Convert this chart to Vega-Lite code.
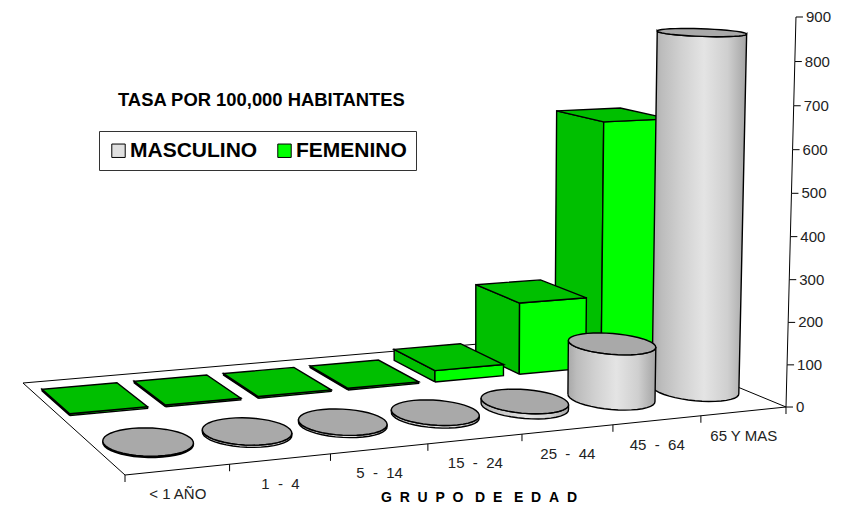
{
"$schema":"https://vega.github.io/schema/vega-lite/v6.json",
"width":854,"height":507,"padding":0,"autosize":{"type":"none"},
"background":"white",
"title":{"text":"TASA POR 100,000 HABITANTES","anchor":"start","frame":"group","dx":118,"offset":-109,"font":"Liberation Sans","fontSize":18.4,"fontWeight":"bold","color":"black"},
"config":{"view":{"stroke":null},"font":"Liberation Sans"},
"datasets":{
"tasas":[
{"grupo":"65 Y MAS","orden":6,"sexo":"FEMENINO","tasa":613},
{"grupo":"45\u00a0\u00a0-\u00a0\u00a064","orden":5,"sexo":"FEMENINO","tasa":178},
{"grupo":"25\u00a0\u00a0-\u00a0\u00a044","orden":4,"sexo":"FEMENINO","tasa":28},
{"grupo":"15\u00a0\u00a0-\u00a0\u00a024","orden":3,"sexo":"FEMENINO","tasa":4},
{"grupo":"5\u00a0\u00a0-\u00a0\u00a014","orden":2,"sexo":"FEMENINO","tasa":4},
{"grupo":"1\u00a0\u00a0-\u00a0\u00a04","orden":1,"sexo":"FEMENINO","tasa":4},
{"grupo":"< 1 AÑO","orden":0,"sexo":"FEMENINO","tasa":4},
{"grupo":"65 Y MAS","orden":6,"sexo":"MASCULINO","tasa":851},
{"grupo":"45\u00a0\u00a0-\u00a0\u00a064","orden":5,"sexo":"MASCULINO","tasa":130},
{"grupo":"25\u00a0\u00a0-\u00a0\u00a044","orden":4,"sexo":"MASCULINO","tasa":12},
{"grupo":"15\u00a0\u00a0-\u00a0\u00a024","orden":3,"sexo":"MASCULINO","tasa":6},
{"grupo":"5\u00a0\u00a0-\u00a0\u00a014","orden":2,"sexo":"MASCULINO","tasa":5},
{"grupo":"1\u00a0\u00a0-\u00a0\u00a04","orden":1,"sexo":"MASCULINO","tasa":5},
{"grupo":"< 1 AÑO","orden":0,"sexo":"MASCULINO","tasa":3}
],
"eje":[{"valor":0},{"valor":100},{"valor":200},{"valor":300},{"valor":400},{"valor":500},{"valor":600},{"valor":700},{"valor":800},{"valor":900}]
},
"encoding":{
"x":{"field":"px","type":"quantitative","scale":{"domain":[0,854],"range":[0,854]},
 "axis":{"domain":false,"ticks":false,"labels":false,"grid":false,"title":"G\u00a0\u00a0R\u00a0\u00a0U\u00a0\u00a0P\u00a0\u00a0O\u00a0\u00a0\u00a0D\u00a0\u00a0E\u00a0\u00a0\u00a0E\u00a0\u00a0D\u00a0\u00a0A\u00a0\u00a0D","titleX":478.5,"titleY":-10,"titleBaseline":"middle","titleFont":"Liberation Sans","titleFontSize":14,"titleFontWeight":"bold","titleColor":"black","titleAlign":"center"}},
"y":{"field":"py","type":"quantitative","scale":{"domain":[0,507],"range":[0,507]},"axis":null}
},
"layer":[
{"data":{"name":"tasas"},
 "transform":[
 {"filter":"datum.orden==0&&datum.sexo=='MASCULINO'"},
 {"calculate":"[0,1,2,3,4]","as":"n"},{"flatten":["n"]},
 {"calculate":"[0,7,7,0,0][datum.n]","as":"u"},
 {"calculate":"[0,0,1,1,0][datum.n]","as":"t"},
 {"calculate":"1+0.12771*datum.u/7+0.17099*datum.t","as":"w"},
 {"calculate":"(125+761.38*datum.u/7-98.07*datum.t)/datum.w","as":"px"},
 {"calculate":"(475-16.02*datum.u/7-26.51*datum.t)/datum.w","as":"py"}],
 "mark":{"type":"line","stroke":"black","strokeWidth":1,"fill":"white","strokeJoin":"miter"},
 "encoding":{"order":{"field":"n","type":"quantitative"}}},
{"data":{"name":"tasas"},
 "transform":[
 {"filter":"datum.sexo=='FEMENINO'"},
 {"calculate":"['izq','frente','sup']","as":"cara"},{"flatten":["cara"]},
 {"calculate":"[0,1,2,3,4]","as":"n"},{"flatten":["n"]},
 {"calculate":"datum.n%4","as":"k"},
 {"calculate":"datum.orden+(datum.cara=='izq'?0.1:datum.cara=='frente'?(datum.k<2?0.1:0.91):((datum.k==0||datum.k==3)?0.1:0.91))","as":"u"},
 {"calculate":"datum.cara=='frente'?0.6:(datum.k<2?0.6:0.89)","as":"t"},
 {"calculate":"datum.cara=='sup'?datum.tasa/900:((datum.k==1||datum.k==2)?datum.tasa/900:0)","as":"z"},
 {"calculate":"1+0.12771*datum.u/7+0.17099*datum.t-0.0341*datum.z","as":"w"},
 {"calculate":"(125+761.38*datum.u/7-98.07*datum.t-15.9*datum.z)/datum.w","as":"px"},
 {"calculate":"(475-16.02*datum.u/7-26.51*datum.t-440.41*datum.z)/datum.w","as":"py"},
 {"calculate":"datum.orden+datum.cara","as":"poly"}],
 "mark":{"type":"line","stroke":"black","strokeWidth":1.4,"strokeJoin":"miter"},
 "encoding":{
  "detail":{"field":"poly"},
  "order":{"field":"n","type":"quantitative"},
  "fill":{"field":"cara","type":"nominal","scale":{"domain":["izq","frente","sup"],"range":["#00bf00","#00ff00","#00bf00"]},"legend":null}}},
{"data":{"name":"tasas"},
 "transform":[
 {"filter":"datum.sexo=='MASCULINO'"},
 {"calculate":"[0,1,2,3,4,5,6,7,8,9,10,11,12,13,14,15,16,17,18,19,20,21,22,23,24,25,26,27,28,29,30,31,32,33,34,35,36,37,38,39,40,41,42]","as":"n"},{"flatten":["n"]},
 {"calculate":"(datum.orden+0.52)/7","as":"s0"},
 {"calculate":"1+0.12771*datum.s0+0.17099*0.26","as":"w0"},
 {"calculate":"(125+761.38*datum.s0-98.07*0.26)/datum.w0","as":"x0"},
 {"calculate":"atan2(0.14*(-98.07-datum.x0*0.17099)/datum.w0,0.42*(761.38-datum.x0*0.12771)/datum.w0/7)","as":"a0"},
 {"calculate":"datum.n%42","as":"k"},
 {"calculate":"datum.k<=20?datum.a0+PI+PI*datum.k/20:datum.a0+2*PI-PI*(datum.k-21)/20","as":"a"},
 {"calculate":"datum.orden+0.52+0.42*cos(datum.a)","as":"u"},
 {"calculate":"0.26+0.14*sin(datum.a)","as":"t"},
 {"calculate":"datum.k<=20?0:datum.tasa/900","as":"z"},
 {"calculate":"1+0.12771*datum.u/7+0.17099*datum.t-0.0341*datum.z","as":"w"},
 {"calculate":"(125+761.38*datum.u/7-98.07*datum.t-15.9*datum.z)/datum.w","as":"px"},
 {"calculate":"(475-16.02*datum.u/7-26.51*datum.t-440.41*datum.z)/datum.w","as":"py"}],
 "mark":{"type":"line","stroke":"black","strokeWidth":1.4,"fill":{"gradient":"linear","x1":0,"y1":0,"x2":1,"y2":0,"stops":[{"offset":0,"color":"#a8a8a8"},{"offset":0.1,"color":"#bcbcbc"},{"offset":0.3,"color":"#d0d0d0"},{"offset":0.55,"color":"#e4e4e4"},{"offset":0.8,"color":"#cfcfcf"},{"offset":1,"color":"#a4a4a4"}]}},
 "encoding":{"detail":{"field":"orden"},"order":{"field":"n","type":"quantitative"}}},
{"data":{"name":"tasas"},
 "transform":[
 {"filter":"datum.sexo=='MASCULINO'"},
 {"calculate":"[0,1,2,3,4,5,6,7,8,9,10,11,12,13,14,15,16,17,18,19,20,21,22,23,24,25,26,27,28,29,30,31,32,33,34,35,36,37,38,39,40]","as":"n"},{"flatten":["n"]},
 {"calculate":"2*PI*datum.n/40","as":"a"},
 {"calculate":"datum.orden+0.52+0.42*cos(datum.a)","as":"u"},
 {"calculate":"0.26+0.14*sin(datum.a)","as":"t"},
 {"calculate":"datum.tasa/900","as":"z"},
 {"calculate":"1+0.12771*datum.u/7+0.17099*datum.t-0.0341*datum.z","as":"w"},
 {"calculate":"(125+761.38*datum.u/7-98.07*datum.t-15.9*datum.z)/datum.w","as":"px"},
 {"calculate":"(475-16.02*datum.u/7-26.51*datum.t-440.41*datum.z)/datum.w","as":"py"}],
 "mark":{"type":"line","stroke":"black","strokeWidth":1.4,"fill":"#a9a9a9"},
 "encoding":{"detail":{"field":"orden"},"order":{"field":"n","type":"quantitative"}}},
{"data":{"name":"tasas"},
 "transform":[
 {"filter":"datum.sexo=='MASCULINO'"},
 {"calculate":"datum.orden/7","as":"s"},
 {"calculate":"1+0.12771*datum.s","as":"w"},
 {"calculate":"(125+761.38*datum.s)/datum.w","as":"px"},
 {"calculate":"(475-16.02*datum.s)/datum.w","as":"py"},
 {"calculate":"datum.py+7","as":"py2"}],
 "mark":{"type":"rule","stroke":"black","strokeWidth":1},
 "encoding":{"y2":{"field":"py2"}}},
{"data":{"name":"tasas"},
 "transform":[
 {"filter":"datum.sexo=='MASCULINO'"},
 {"calculate":"(datum.orden+0.5)/7","as":"s"},
 {"calculate":"1+0.12771*datum.s","as":"w"},
 {"calculate":"(125+761.38*datum.s)/datum.w","as":"px"},
 {"calculate":"(475-16.02*datum.s)/datum.w+24.5","as":"py"}],
 "mark":{"type":"text","font":"Liberation Sans","fontSize":15,"color":"#222","align":"center","baseline":"middle"},
 "encoding":{"text":{"field":"grupo"}}},
{"data":{"name":"eje"},
 "transform":[
 {"calculate":"datum.valor/900","as":"z"},
 {"calculate":"1.12771-0.0341*datum.z","as":"w"},
 {"calculate":"(886.38-15.9*datum.z)/datum.w","as":"px"},
 {"calculate":"(459-440.41*datum.z)/datum.w","as":"py"},
 {"calculate":"datum.px+7","as":"px2"},
 {"calculate":"datum.px+10","as":"pxt"}],
 "layer":[
 {"mark":{"type":"line","stroke":"black","strokeWidth":1},"encoding":{"order":{"field":"valor","type":"quantitative"}}},
 {"mark":{"type":"rule","stroke":"black","strokeWidth":1},"encoding":{"x2":{"field":"px2"}}},
 {"transform":[{"filter":"datum.valor==0"},{"calculate":"datum.py+7","as":"py2"}],"mark":{"type":"rule","stroke":"black","strokeWidth":1},"encoding":{"y2":{"field":"py2"}}},
 {"mark":{"type":"text","font":"Liberation Sans","fontSize":15,"color":"#222","align":"left","baseline":"middle"},
  "encoding":{"x":{"field":"pxt","type":"quantitative"},"text":{"field":"valor","type":"quantitative"}}}
 ]},
{"data":{"name":"tasas"},
 "transform":[{"filter":"datum.orden==0"},{"calculate":"0","as":"px"},{"calculate":"0","as":"py"}],
 "mark":{"type":"square","size":0,"opacity":0},
 "encoding":{"color":{"field":"sexo","type":"nominal","scale":{"domain":["MASCULINO","FEMENINO"],"range":["#e0e0e0","#00ff00"]},
  "legend":{"title":null,"orient":"none","legendX":99,"legendY":131,"direction":"horizontal","columns":2,"symbolType":"square","symbolSize":180,"symbolOpacity":1,"symbolStrokeColor":"black","symbolStrokeWidth":1,"labelFont":"Liberation Sans","labelFontSize":21,"labelFontWeight":"bold","labelColor":"black","labelOpacity":1,"labelOffset":1,"columnPadding":16,"strokeColor":"#333","fillColor":"white","padding":9}}}}
]
}
